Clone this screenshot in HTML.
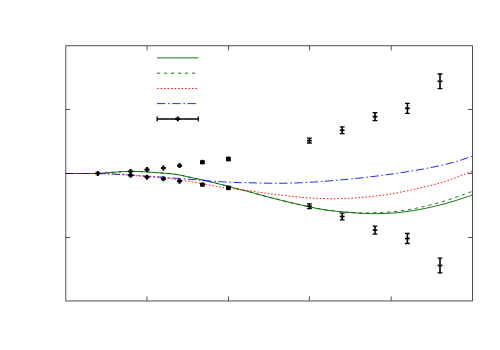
<!DOCTYPE html>
<html><head><meta charset="utf-8"><title>plot</title>
<style>html,body{margin:0;padding:0;background:#fff;font-family:"Liberation Sans",sans-serif;}svg{display:block}</style></head><body>
<svg width="500" height="350" viewBox="0 0 500 350">
<rect width="500" height="350" fill="#fff"/>
<path d="M66.0,173.50 L68.0,173.50 L70.0,173.50 L72.0,173.50 L74.0,173.50 L76.0,173.50 L78.0,173.50 L80.0,173.50 L82.0,173.50 L84.0,173.50 L86.0,173.50 L88.0,173.50 L90.0,173.50 L92.0,173.50 L94.0,173.50 L96.0,173.50 L98.0,173.50 L100.0,173.34 L102.0,173.17 L104.0,173.00 L106.0,172.83 L108.0,172.66 L110.0,172.50 L112.0,172.34 L114.0,172.20 L116.0,172.06 L118.0,171.92 L120.0,171.80 L122.0,171.69 L124.0,171.58 L126.0,171.50 L128.0,171.44 L130.0,171.40 L132.0,171.39 L134.0,171.41 L136.0,171.45 L138.0,171.52 L140.0,171.60 L142.0,171.70 L144.0,171.81 L146.0,171.93 L148.0,172.06 L150.0,172.20 L152.0,172.34 L154.0,172.48 L156.0,172.62 L158.0,172.76 L160.0,172.90 L162.0,173.04 L164.0,173.19 L166.0,173.34 L168.0,173.51 L170.0,173.70 L172.0,173.91 L174.0,174.15 L176.0,174.43 L178.0,174.74 L180.0,175.10 L182.0,175.50 L184.0,175.93 L186.0,176.39 L188.0,176.85 L190.0,177.30 L192.0,177.73 L194.0,178.15 L196.0,178.57 L198.0,178.98 L200.0,179.40 L202.0,179.83 L204.0,180.28 L206.0,180.74 L208.0,181.21 L210.0,181.69 L212.0,182.18 L214.0,182.67 L216.0,183.18 L218.0,183.69 L220.0,184.20 L222.0,184.72 L224.0,185.24 L226.0,185.76 L228.0,186.28 L230.0,186.80 L232.0,187.32 L234.0,187.85 L236.0,188.37 L238.0,188.89 L240.0,189.40 L242.0,189.91 L244.0,190.42 L246.0,190.94 L248.0,191.46 L250.0,192.00 L252.0,192.55 L254.0,193.11 L256.0,193.67 L258.0,194.24 L260.0,194.80 L262.0,195.35 L264.0,195.89 L266.0,196.43 L268.0,196.95 L270.0,197.47 L272.0,197.99 L274.0,198.50 L276.0,199.00 L278.0,199.50 L280.0,200.00 L282.0,200.50 L284.0,200.99 L286.0,201.48 L288.0,201.97 L290.0,202.45 L292.0,202.93 L294.0,203.41 L296.0,203.88 L298.0,204.34 L300.0,204.80 L302.0,205.25 L304.0,205.70 L306.0,206.14 L308.0,206.57 L310.0,207.00 L312.0,207.43 L314.0,207.84 L316.0,208.25 L318.0,208.63 L320.0,209.00 L322.0,209.34 L324.0,209.66 L326.0,209.96 L328.0,210.23 L330.0,210.49 L332.0,210.74 L334.0,210.97 L336.0,211.19 L338.0,211.40 L340.0,211.60 L342.0,211.80 L344.0,211.99 L346.0,212.17 L348.0,212.35 L350.0,212.51 L352.0,212.67 L354.0,212.82 L356.0,212.96 L358.0,213.09 L360.0,213.20 L362.0,213.30 L364.0,213.39 L366.0,213.47 L368.0,213.53 L370.0,213.58 L372.0,213.61 L374.0,213.63 L376.0,213.64 L378.0,213.63 L380.0,213.60 L382.0,213.56 L384.0,213.50 L386.0,213.43 L388.0,213.33 L390.0,213.22 L392.0,213.10 L394.0,212.95 L396.0,212.79 L398.0,212.60 L400.0,212.40 L402.0,212.18 L404.0,211.93 L406.0,211.67 L408.0,211.40 L410.0,211.10 L412.0,210.79 L414.0,210.46 L416.0,210.12 L418.0,209.77 L420.0,209.40 L422.0,209.02 L424.0,208.63 L426.0,208.22 L428.0,207.80 L430.0,207.37 L432.0,206.93 L434.0,206.47 L436.0,205.99 L438.0,205.50 L440.0,205.00 L442.0,204.48 L444.0,203.95 L446.0,203.40 L448.0,202.84 L450.0,202.26 L452.0,201.67 L454.0,201.07 L456.0,200.46 L458.0,199.84 L460.0,199.20 L462.0,198.55 L464.0,197.90 L466.0,197.23 L468.0,196.55 L470.0,195.87 L472.0,195.17 L472.5,195.00" fill="none" stroke="#006400" stroke-width="0.88"/>
<path d="M66.0,173.50 L68.0,173.50 L70.0,173.50 L72.0,173.50 L74.0,173.50 L76.0,173.50 L78.0,173.50 L80.0,173.50 L82.0,173.50 L84.0,173.50 L86.0,173.50 L88.0,173.50 L90.0,173.50 L92.0,173.50 L94.0,173.50 L96.0,173.50 L98.0,173.50 L100.0,173.34 L102.0,173.17 L104.0,173.00 L106.0,172.83 L108.0,172.66 L110.0,172.50 L112.0,172.34 L114.0,172.20 L116.0,172.06 L118.0,171.92 L120.0,171.80 L122.0,171.69 L124.0,171.58 L126.0,171.50 L128.0,171.44 L130.0,171.40 L132.0,171.39 L134.0,171.41 L136.0,171.45 L138.0,171.52 L140.0,171.60 L142.0,171.70 L144.0,171.81 L146.0,171.93 L148.0,172.06 L150.0,172.20 L152.0,172.34 L154.0,172.48 L156.0,172.62 L158.0,172.76 L160.0,172.90 L162.0,173.04 L164.0,173.19 L166.0,173.34 L168.0,173.51 L170.0,173.70 L172.0,173.91 L174.0,174.15 L176.0,174.43 L178.0,174.74 L180.0,175.10 L182.0,175.50 L184.0,175.93 L186.0,176.39 L188.0,176.85 L190.0,177.30 L192.0,177.73 L194.0,178.15 L196.0,178.57 L198.0,178.98 L200.0,179.40 L202.0,179.83 L204.0,180.28 L206.0,180.74 L208.0,181.21 L210.0,181.69 L212.0,182.18 L214.0,182.67 L216.0,183.18 L218.0,183.69 L220.0,184.20 L222.0,184.72 L224.0,185.24 L226.0,185.76 L228.0,186.28 L230.0,186.80 L232.0,187.32 L234.0,187.85 L236.0,188.37 L238.0,188.89 L240.0,189.40 L242.0,189.91 L244.0,190.42 L246.0,190.94 L248.0,191.46 L250.0,192.00 L252.0,192.55 L254.0,193.11 L256.0,193.67 L258.0,194.24 L260.0,194.80 L262.0,195.35 L264.0,195.89 L266.0,196.43 L268.0,196.95 L270.0,197.47 L272.0,197.99 L274.0,198.50 L276.0,199.00 L278.0,199.50 L280.0,200.00 L282.0,200.50 L284.0,200.99 L286.0,201.48 L288.0,201.97 L290.0,202.45 L292.0,202.93 L294.0,203.41 L296.0,203.88 L298.0,204.34 L300.0,204.80 L302.0,205.25 L304.0,205.70 L306.0,206.14 L308.0,206.57 L310.0,207.00 L312.0,207.42 L314.0,207.84 L316.0,208.25 L318.0,208.63 L320.0,209.00 L322.0,209.34 L324.0,209.66 L326.0,209.96 L328.0,210.24 L330.0,210.50 L332.0,210.75 L334.0,210.98 L336.0,211.20 L338.0,211.40 L340.0,211.60 L342.0,211.79 L344.0,211.97 L346.0,212.14 L348.0,212.30 L350.0,212.44 L352.0,212.57 L354.0,212.68 L356.0,212.77 L358.0,212.85 L360.0,212.90 L362.0,212.93 L364.0,212.94 L366.0,212.93 L368.0,212.91 L370.0,212.86 L372.0,212.81 L374.0,212.75 L376.0,212.67 L378.0,212.59 L380.0,212.50 L382.0,212.41 L384.0,212.31 L386.0,212.20 L388.0,212.08 L390.0,211.95 L392.0,211.80 L394.0,211.64 L396.0,211.45 L398.0,211.24 L400.0,211.00 L402.0,210.74 L404.0,210.44 L406.0,210.13 L408.0,209.79 L410.0,209.43 L412.0,209.06 L414.0,208.66 L416.0,208.25 L418.0,207.83 L420.0,207.40 L422.0,206.96 L424.0,206.51 L426.0,206.05 L428.0,205.57 L430.0,205.08 L432.0,204.58 L434.0,204.06 L436.0,203.53 L438.0,202.97 L440.0,202.40 L442.0,201.81 L444.0,201.20 L446.0,200.57 L448.0,199.92 L450.0,199.26 L452.0,198.59 L454.0,197.91 L456.0,197.21 L458.0,196.51 L460.0,195.80 L462.0,195.09 L464.0,194.37 L466.0,193.64 L468.0,192.92 L470.0,192.20 L472.0,191.48 L472.5,191.30" fill="none" stroke="#006400" stroke-width="0.88" stroke-dasharray="3.2 3.8" stroke-dashoffset="3.4"/>
<path d="M66.0,173.50 L68.0,173.50 L70.0,173.50 L72.0,173.50 L74.0,173.50 L76.0,173.50 L78.0,173.50 L80.0,173.50 L82.0,173.50 L84.0,173.50 L86.0,173.50 L88.0,173.50 L90.0,173.50 L92.0,173.50 L94.0,173.50 L96.0,173.50 L98.0,173.50 L100.0,173.56 L102.0,173.62 L104.0,173.69 L106.0,173.77 L108.0,173.85 L110.0,173.94 L112.0,174.04 L114.0,174.15 L116.0,174.26 L118.0,174.37 L120.0,174.50 L122.0,174.63 L124.0,174.76 L126.0,174.90 L128.0,175.05 L130.0,175.20 L132.0,175.36 L134.0,175.51 L136.0,175.68 L138.0,175.84 L140.0,176.00 L142.0,176.16 L144.0,176.32 L146.0,176.48 L148.0,176.64 L150.0,176.80 L152.0,176.96 L154.0,177.12 L156.0,177.28 L158.0,177.44 L160.0,177.60 L162.0,177.75 L164.0,177.91 L166.0,178.09 L168.0,178.28 L170.0,178.50 L172.0,178.76 L174.0,179.04 L176.0,179.35 L178.0,179.67 L180.0,180.00 L182.0,180.33 L184.0,180.65 L186.0,180.97 L188.0,181.29 L190.0,181.60 L192.0,181.91 L194.0,182.22 L196.0,182.53 L198.0,182.86 L200.0,183.20 L202.0,183.56 L204.0,183.94 L206.0,184.32 L208.0,184.72 L210.0,185.12 L212.0,185.51 L214.0,185.90 L216.0,186.28 L218.0,186.65 L220.0,187.00 L222.0,187.33 L224.0,187.63 L226.0,187.92 L228.0,188.19 L230.0,188.45 L232.0,188.70 L234.0,188.93 L236.0,189.16 L238.0,189.38 L240.0,189.60 L242.0,189.82 L244.0,190.04 L246.0,190.28 L248.0,190.53 L250.0,190.80 L252.0,191.10 L254.0,191.42 L256.0,191.75 L258.0,192.08 L260.0,192.40 L262.0,192.71 L264.0,193.00 L266.0,193.27 L268.0,193.54 L270.0,193.80 L272.0,194.05 L274.0,194.29 L276.0,194.53 L278.0,194.76 L280.0,195.00 L282.0,195.24 L284.0,195.48 L286.0,195.71 L288.0,195.95 L290.0,196.18 L292.0,196.40 L294.0,196.62 L296.0,196.82 L298.0,197.02 L300.0,197.20 L302.0,197.37 L304.0,197.52 L306.0,197.67 L308.0,197.80 L310.0,197.92 L312.0,198.03 L314.0,198.14 L316.0,198.23 L318.0,198.32 L320.0,198.40 L322.0,198.48 L324.0,198.55 L326.0,198.61 L328.0,198.65 L330.0,198.69 L332.0,198.71 L334.0,198.71 L336.0,198.69 L338.0,198.65 L340.0,198.60 L342.0,198.54 L344.0,198.47 L346.0,198.40 L348.0,198.32 L350.0,198.22 L352.0,198.12 L354.0,198.01 L356.0,197.88 L358.0,197.75 L360.0,197.60 L362.0,197.44 L364.0,197.27 L366.0,197.09 L368.0,196.89 L370.0,196.69 L372.0,196.47 L374.0,196.24 L376.0,196.01 L378.0,195.76 L380.0,195.50 L382.0,195.23 L384.0,194.95 L386.0,194.66 L388.0,194.36 L390.0,194.05 L392.0,193.73 L394.0,193.39 L396.0,193.04 L398.0,192.68 L400.0,192.30 L402.0,191.91 L404.0,191.51 L406.0,191.09 L408.0,190.67 L410.0,190.24 L412.0,189.80 L414.0,189.35 L416.0,188.90 L418.0,188.45 L420.0,188.00 L422.0,187.55 L424.0,187.09 L426.0,186.63 L428.0,186.16 L430.0,185.68 L432.0,185.18 L434.0,184.67 L436.0,184.14 L438.0,183.58 L440.0,183.00 L442.0,182.39 L444.0,181.76 L446.0,181.10 L448.0,180.41 L450.0,179.71 L452.0,179.00 L454.0,178.26 L456.0,177.52 L458.0,176.76 L460.0,176.00 L462.0,175.23 L464.0,174.46 L466.0,173.69 L468.0,172.92 L470.0,172.15 L472.0,171.39 L472.5,171.20" fill="none" stroke="#ff0000" stroke-width="0.9" stroke-dasharray="1.6 1.9"/>
<path d="M66.0,173.50 L68.0,173.50 L70.0,173.50 L72.0,173.50 L74.0,173.50 L76.0,173.50 L78.0,173.50 L80.0,173.50 L82.0,173.50 L84.0,173.50 L86.0,173.50 L88.0,173.50 L90.0,173.50 L92.0,173.50 L94.0,173.50 L96.0,173.50 L98.0,173.50 L100.0,173.55 L102.0,173.60 L104.0,173.66 L106.0,173.73 L108.0,173.80 L110.0,173.88 L112.0,173.96 L114.0,174.05 L116.0,174.15 L118.0,174.25 L120.0,174.36 L122.0,174.48 L124.0,174.60 L126.0,174.73 L128.0,174.86 L130.0,175.00 L132.0,175.14 L134.0,175.29 L136.0,175.43 L138.0,175.57 L140.0,175.70 L142.0,175.82 L144.0,175.94 L146.0,176.06 L148.0,176.18 L150.0,176.30 L152.0,176.43 L154.0,176.56 L156.0,176.70 L158.0,176.85 L160.0,177.00 L162.0,177.15 L164.0,177.31 L166.0,177.47 L168.0,177.63 L170.0,177.80 L172.0,177.97 L174.0,178.13 L176.0,178.29 L178.0,178.45 L180.0,178.60 L182.0,178.74 L184.0,178.87 L186.0,179.01 L188.0,179.15 L190.0,179.30 L192.0,179.47 L194.0,179.64 L196.0,179.83 L198.0,180.02 L200.0,180.20 L202.0,180.38 L204.0,180.55 L206.0,180.71 L208.0,180.87 L210.0,181.03 L212.0,181.17 L214.0,181.31 L216.0,181.45 L218.0,181.58 L220.0,181.70 L222.0,181.82 L224.0,181.93 L226.0,182.04 L228.0,182.14 L230.0,182.24 L232.0,182.33 L234.0,182.41 L236.0,182.48 L238.0,182.54 L240.0,182.60 L242.0,182.65 L244.0,182.69 L246.0,182.73 L248.0,182.76 L250.0,182.80 L252.0,182.84 L254.0,182.88 L256.0,182.93 L258.0,182.97 L260.0,183.02 L262.0,183.06 L264.0,183.10 L266.0,183.14 L268.0,183.17 L270.0,183.20 L272.0,183.22 L274.0,183.24 L276.0,183.25 L278.0,183.25 L280.0,183.25 L282.0,183.24 L284.0,183.22 L286.0,183.20 L288.0,183.16 L290.0,183.12 L292.0,183.08 L294.0,183.02 L296.0,182.95 L298.0,182.88 L300.0,182.80 L302.0,182.71 L304.0,182.61 L306.0,182.50 L308.0,182.39 L310.0,182.27 L312.0,182.15 L314.0,182.02 L316.0,181.88 L318.0,181.74 L320.0,181.60 L322.0,181.45 L324.0,181.31 L326.0,181.16 L328.0,181.00 L330.0,180.84 L332.0,180.68 L334.0,180.52 L336.0,180.35 L338.0,180.18 L340.0,180.00 L342.0,179.82 L344.0,179.63 L346.0,179.44 L348.0,179.25 L350.0,179.05 L352.0,178.85 L354.0,178.64 L356.0,178.43 L358.0,178.22 L360.0,178.00 L362.0,177.78 L364.0,177.55 L366.0,177.32 L368.0,177.09 L370.0,176.85 L372.0,176.61 L374.0,176.36 L376.0,176.11 L378.0,175.86 L380.0,175.60 L382.0,175.34 L384.0,175.07 L386.0,174.80 L388.0,174.52 L390.0,174.24 L392.0,173.96 L394.0,173.68 L396.0,173.39 L398.0,173.09 L400.0,172.80 L402.0,172.50 L404.0,172.20 L406.0,171.90 L408.0,171.59 L410.0,171.27 L412.0,170.95 L414.0,170.63 L416.0,170.29 L418.0,169.95 L420.0,169.60 L422.0,169.24 L424.0,168.87 L426.0,168.50 L428.0,168.11 L430.0,167.72 L432.0,167.31 L434.0,166.90 L436.0,166.47 L438.0,166.04 L440.0,165.60 L442.0,165.15 L444.0,164.68 L446.0,164.21 L448.0,163.72 L450.0,163.21 L452.0,162.69 L454.0,162.15 L456.0,161.59 L458.0,161.01 L460.0,160.40 L462.0,159.77 L464.0,159.11 L466.0,158.43 L468.0,157.72 L470.0,156.97 L472.0,156.20 L472.5,156.00" fill="none" stroke="#0000ff" stroke-width="0.85" stroke-dasharray="8.3 2.9 1.6 2.45"/>
<g stroke="#000" stroke-width="0.85" fill="none" opacity="0.8">
<rect x="65.8" y="45.75" width="406.65" height="255.20"/>
<path d="M147.0,45.75 v4.7 M147.0,300.95 v-4.5"/>
<path d="M228.5,45.75 v4.7 M228.5,300.95 v-4.5"/>
<path d="M309.4,45.75 v4.7 M309.4,300.95 v-4.5"/>
<path d="M391.2,45.75 v4.7 M391.2,300.95 v-4.5"/>
<path d="M65.8,109.45 h4.5 M472.45,109.45 h-4.5"/>
<path d="M65.8,173.45 h4.5 M472.45,173.45 h-4.5"/>
<path d="M65.8,237.50 h4.5 M472.45,237.50 h-4.5"/>
</g>
<path d="M157,57.9 H198.5" stroke="#006400" stroke-width="0.88"/>
<path d="M157,73.2 H198.5" stroke="#006400" stroke-width="0.88" stroke-dasharray="3.2 3.8"/>
<path d="M157,88.5 H198.5" stroke="#ff0000" stroke-width="0.9" stroke-dasharray="1.6 1.9"/>
<path d="M157,103.6 H198.5" stroke="#0000ff" stroke-width="0.85" stroke-dasharray="8.3 2.9 1.6 2.45"/>
<g stroke="#000" stroke-width="1.55" fill="none">
<path d="M157,118.9 H198.5"/>
<path stroke-width="1.3" d="M157.2,116.6 v4.6 M198.3,116.6 v4.6"/>
<path stroke-width="2.1" d="M175.4,118.9 h4.8 M177.8,116.5 v4.8"/>
<path stroke-width="2.2" d="M95.3,173.4 h5 M97.8,170.9 v5"/>
<path stroke-width="2.2" d="M128.1,171.5 h5 M130.6,169.0 v5"/>
<path stroke-width="2.2" d="M128.1,175.3 h5 M130.6,172.8 v5"/>
<path stroke-width="2.2" d="M144.5,169.6 h5 M147,167.1 v5"/>
<path stroke-width="2.2" d="M144.5,177.2 h5 M147,174.7 v5"/>
<path stroke-width="2.2" d="M160.9,168.0 h5 M163.4,165.5 v5"/>
<path stroke-width="2.2" d="M160.9,178.8 h5 M163.4,176.3 v5"/>
<path stroke-width="2.2" d="M177.1,165.6 h5 M179.6,163.1 v5"/>
<path stroke-width="2.2" d="M177.1,181.2 h5 M179.6,178.7 v5"/>
<path stroke-width="1.7" d="M200.0,161.2 h4.8 M200.0,163.3 h4.8 M200.0,162.2 h4.8 M202.4,159.8 v4.8"/>
<path stroke-width="1.7" d="M200.0,183.5 h4.8 M200.0,185.7 h4.8 M200.0,184.6 h4.8 M202.4,182.2 v4.8"/>
<path stroke-width="1.7" d="M226.0,157.7 h4.8 M226.0,160.3 h4.8 M226.0,159.0 h4.8 M228.4,156.6 v4.8"/>
<path stroke-width="1.7" d="M226.0,186.5 h4.8 M226.0,189.2 h4.8 M226.0,187.8 h4.8 M228.4,185.4 v4.8"/>
<path stroke-width="1.6" d="M309.4,138.2 V143.0"/>
<path stroke-width="1.3" d="M307.0,138.2 h4.8 M307.0,143.0 h4.8"/>
<path stroke-width="1.7" d="M307.0,140.6 h4.8"/>
<path stroke-width="1.6" d="M309.4,203.8 V208.6"/>
<path stroke-width="1.3" d="M307.0,203.8 h4.8 M307.0,208.6 h4.8"/>
<path stroke-width="1.7" d="M307.0,206.2 h4.8"/>
<path stroke-width="1.6" d="M342.2,126.9 V133.7"/>
<path stroke-width="1.3" d="M339.8,126.9 h4.8 M339.8,133.7 h4.8"/>
<path stroke-width="1.7" d="M339.8,130.3 h4.8"/>
<path stroke-width="1.6" d="M342.2,213.1 V219.9"/>
<path stroke-width="1.3" d="M339.8,213.1 h4.8 M339.8,219.9 h4.8"/>
<path stroke-width="1.7" d="M339.8,216.5 h4.8"/>
<path stroke-width="1.6" d="M375,112.7 V120.7"/>
<path stroke-width="1.3" d="M372.6,112.7 h4.8 M372.6,120.7 h4.8"/>
<path stroke-width="1.7" d="M372.6,116.7 h4.8"/>
<path stroke-width="1.6" d="M375,226.1 V234.1"/>
<path stroke-width="1.3" d="M372.6,226.1 h4.8 M372.6,234.1 h4.8"/>
<path stroke-width="1.7" d="M372.6,230.1 h4.8"/>
<path stroke-width="1.6" d="M407.4,103.3 V113.3"/>
<path stroke-width="1.3" d="M405.0,103.3 h4.8 M405.0,113.3 h4.8"/>
<path stroke-width="1.7" d="M405.0,108.3 h4.8"/>
<path stroke-width="1.6" d="M407.4,233.5 V243.5"/>
<path stroke-width="1.3" d="M405.0,233.5 h4.8 M405.0,243.5 h4.8"/>
<path stroke-width="1.7" d="M405.0,238.5 h4.8"/>
<path stroke-width="1.6" d="M440,74.0 V88.6"/>
<path stroke-width="1.3" d="M437.6,74.0 h4.8 M437.6,88.6 h4.8"/>
<path stroke-width="1.7" d="M437.6,81.3 h4.8"/>
<path stroke-width="1.6" d="M440,258.2 V272.8"/>
<path stroke-width="1.3" d="M437.6,258.2 h4.8 M437.6,272.8 h4.8"/>
<path stroke-width="1.7" d="M437.6,265.5 h4.8"/>
</g>
</svg></body></html>
